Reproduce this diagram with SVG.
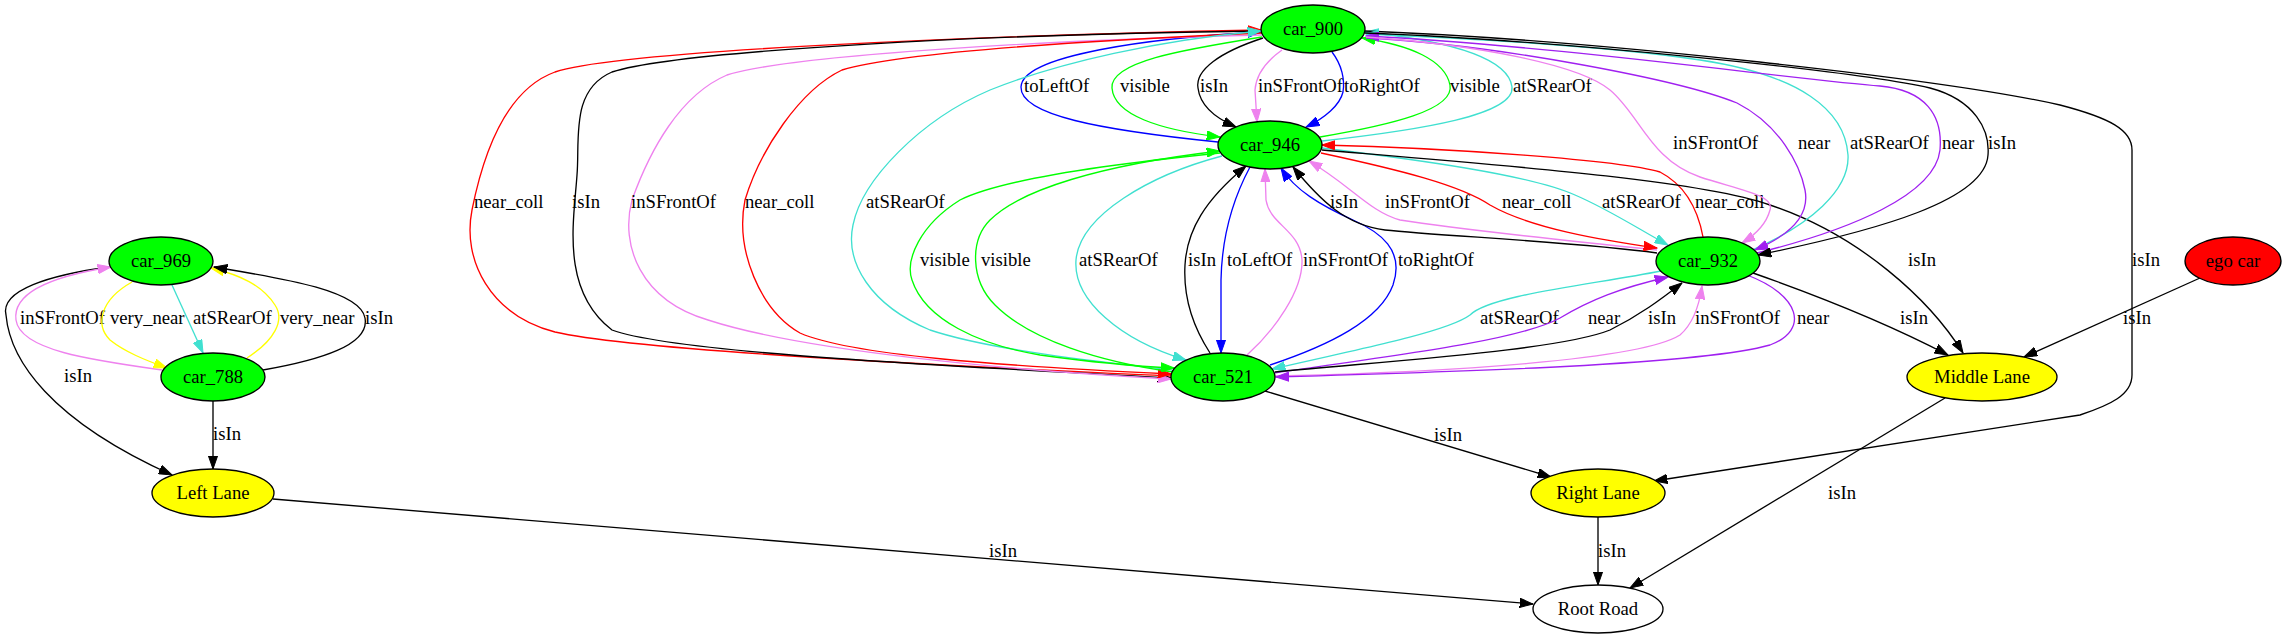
<svg xmlns="http://www.w3.org/2000/svg" width="2287" height="639" viewBox="0 0 2287 639">
<style>
text{font-family:"Liberation Serif","Times New Roman",serif;font-size:18.67px;fill:#000}
.n text{text-anchor:middle}
.n ellipse{stroke:#000;stroke-width:1.33}
.car{fill:#00ff00}.lane{fill:#ffff00}.ego{fill:#ff0000}.road{fill:#fff}
.e path{fill:none;stroke-width:1.33}
.k path{stroke:#000;marker-end:url(#ak)}
.r path{stroke:#f00;marker-end:url(#ar)}
.v path{stroke:#ee82ee;marker-end:url(#av)}
.b path{stroke:#00f;marker-end:url(#ab)}
.g path{stroke:#0f0;marker-end:url(#ag)}
.t path{stroke:#40e0d0;marker-end:url(#at)}
.y path{stroke:#ff0;marker-end:url(#ay)}
.p path{stroke:#a020f0;marker-end:url(#ap)}
</style>
<defs>
<marker id="ak" viewBox="0 0 14 10" refX="13.3" refY="5" markerWidth="14" markerHeight="10" markerUnits="userSpaceOnUse" orient="auto"><path d="M0,0.33L13.3,5L0,9.67z" fill="#000" stroke="#000" stroke-width="1"/></marker>
<marker id="ar" viewBox="0 0 14 10" refX="13.3" refY="5" markerWidth="14" markerHeight="10" markerUnits="userSpaceOnUse" orient="auto"><path d="M0,0.33L13.3,5L0,9.67z" fill="#f00" stroke="#f00" stroke-width="1"/></marker>
<marker id="av" viewBox="0 0 14 10" refX="13.3" refY="5" markerWidth="14" markerHeight="10" markerUnits="userSpaceOnUse" orient="auto"><path d="M0,0.33L13.3,5L0,9.67z" fill="#ee82ee" stroke="#ee82ee" stroke-width="1"/></marker>
<marker id="ab" viewBox="0 0 14 10" refX="13.3" refY="5" markerWidth="14" markerHeight="10" markerUnits="userSpaceOnUse" orient="auto"><path d="M0,0.33L13.3,5L0,9.67z" fill="#00f" stroke="#00f" stroke-width="1"/></marker>
<marker id="ag" viewBox="0 0 14 10" refX="13.3" refY="5" markerWidth="14" markerHeight="10" markerUnits="userSpaceOnUse" orient="auto"><path d="M0,0.33L13.3,5L0,9.67z" fill="#0f0" stroke="#0f0" stroke-width="1"/></marker>
<marker id="at" viewBox="0 0 14 10" refX="13.3" refY="5" markerWidth="14" markerHeight="10" markerUnits="userSpaceOnUse" orient="auto"><path d="M0,0.33L13.3,5L0,9.67z" fill="#40e0d0" stroke="#40e0d0" stroke-width="1"/></marker>
<marker id="ay" viewBox="0 0 14 10" refX="13.3" refY="5" markerWidth="14" markerHeight="10" markerUnits="userSpaceOnUse" orient="auto"><path d="M0,0.33L13.3,5L0,9.67z" fill="#ff0" stroke="#ff0" stroke-width="1"/></marker>
<marker id="ap" viewBox="0 0 14 10" refX="13.3" refY="5" markerWidth="14" markerHeight="10" markerUnits="userSpaceOnUse" orient="auto"><path d="M0,0.33L13.3,5L0,9.67z" fill="#a020f0" stroke="#a020f0" stroke-width="1"/></marker>
</defs>
<rect width="2287" height="639" fill="#fff"/>
<g id="connectors">
<g class="e k"><path d="M109,267 C50,275 0,290 6,315 C10,360 50,420 172,475"/><text x="64" y="382">isIn</text></g>
<g class="e v"><path d="M162,370 C90,360 20,350 16,320 C12,290 60,275 111,267"/><text x="20" y="324">inSFrontOf</text></g>
<g class="e y"><path d="M132,282 C100,300 95,325 110,340 C125,352 145,360 167,368"/><text x="110" y="324">very_near</text></g>
<g class="e t"><path d="M172,285 L203,353"/><text x="193" y="324">atSRearOf</text></g>
<g class="e y"><path d="M247,358 C275,340 285,320 275,305 C262,285 240,275 211,268"/><text x="280" y="324">very_near</text></g>
<g class="e k"><path d="M263,370 C320,360 370,345 365,318 C360,290 280,278 214,267"/><text x="365" y="324">isIn</text></g>
<g class="e k"><path d="M213,401 L213,469"/><text x="213" y="440">isIn</text></g>
<g class="e k"><path d="M273,499 L1533,604"/><text x="989" y="557">isIn</text></g>
<g class="e k"><path d="M1263,38 C1220,52 1195,70 1198,88 C1200,105 1215,118 1236,127"/><text x="1200" y="92">isIn</text></g>
<g class="e v"><path d="M1282,50 C1265,62 1256,75 1255,90 L1257,122"/><text x="1258" y="92">inSFrontOf</text></g>
<g class="e b"><path d="M1332,52 C1342,65 1345,80 1343,92 C1340,105 1325,118 1306,127"/><text x="1344" y="92">toRightOf</text></g>
<g class="e g"><path d="M1262,37 C1180,50 1110,62 1112,88 C1114,115 1160,130 1220,137"/><text x="1120" y="92">visible</text></g>
<g class="e g"><path d="M1320,137 C1390,125 1455,110 1450,85 C1445,60 1410,45 1362,38"/><text x="1450" y="92">visible</text></g>
<g class="e t"><path d="M1322,141 C1420,130 1515,115 1512,87 C1508,55 1440,40 1365,32"/><text x="1513" y="92">atSRearOf</text></g>
<g class="e b"><path d="M1218,142 C1100,130 1020,115 1021,87 C1022,55 1150,38 1261,32"/><text x="1024" y="92">toLeftOf</text></g>
<g class="e r"><path d="M1171,376 C1000,368 640,352 555,332 C490,315 462,260 472,210 C480,170 500,92 555,72 C620,50 1000,35 1261,30"/><text x="474" y="208">near_coll</text></g>
<g class="e k"><path d="M1261,31 C1000,34 680,50 612,72 C570,90 580,140 577,175 C574,220 560,290 612,330 C680,355 1000,368 1171,378"/><text x="572" y="208">isIn</text></g>
<g class="e v"><path d="M1262,35 C1050,40 790,55 727,75 C680,95 650,150 632,200 C620,245 640,300 708,320 C800,350 1000,370 1171,379"/><text x="631" y="208">inSFrontOf</text></g>
<g class="e r"><path d="M1262,33 C1100,40 900,52 842,70 C800,90 760,150 745,200 C735,250 760,310 800,333 C850,355 1000,366 1171,374"/><text x="745" y="208">near_coll</text></g>
<g class="e t"><path d="M1172,370 C1100,362 990,350 930,330 C870,305 845,262 853,225 C862,180 920,120 990,90 C1060,62 1160,40 1261,31"/><text x="866" y="208">atSRearOf</text></g>
<g class="e g"><path d="M1220,153 C1100,165 1000,180 960,200 C920,225 905,260 912,280 C925,320 980,345 1040,355 C1090,362 1130,366 1174,368"/><text x="920" y="266">visible</text></g>
<g class="e g"><path d="M1173,372 C1100,362 1030,340 995,305 C970,280 970,240 990,220 C1020,190 1100,165 1220,151"/><text x="981" y="266">visible</text></g>
<g class="e t"><path d="M1222,156 C1150,175 1080,215 1076,260 C1073,300 1120,340 1186,360"/><text x="1079" y="266">atSRearOf</text></g>
<g class="e k"><path d="M1210,353 C1195,330 1183,300 1185,265 C1187,230 1205,200 1246,166"/><text x="1188" y="266">isIn</text></g>
<g class="e b"><path d="M1250,167 C1235,195 1222,230 1221,280 L1221,353"/><text x="1227" y="266">toLeftOf</text></g>
<g class="e v"><path d="M1247,355 C1275,330 1303,290 1302,260 C1300,230 1270,225 1266,200 L1265,169"/><text x="1303" y="266">inSFrontOf</text></g>
<g class="e b"><path d="M1270,365 C1330,345 1380,320 1393,285 C1405,250 1380,232 1353,220 C1320,205 1295,190 1281,168"/><text x="1398" y="266">toRightOf</text></g>
<g class="e k"><path d="M1657,253 C1580,242 1440,236 1385,230 C1345,225 1320,200 1293,167"/><text x="1330" y="208">isIn</text></g>
<g class="e v"><path d="M1657,250 C1560,240 1450,228 1400,220 C1370,212 1350,185 1309,161"/><text x="1385" y="208">inSFrontOf</text></g>
<g class="e r"><path d="M1321,153 C1400,170 1460,185 1490,205 C1530,228 1600,240 1657,248"/><text x="1502" y="208">near_coll</text></g>
<g class="e t"><path d="M1322,148 C1420,160 1530,175 1575,195 C1610,210 1640,230 1668,245"/><text x="1602" y="208">atSRearOf</text></g>
<g class="e r"><path d="M1703,237 C1698,210 1685,185 1660,172 C1620,160 1450,148 1322,145"/><text x="1695" y="208">near_coll</text></g>
<g class="e k"><path d="M1322,150 C1500,165 1700,180 1770,205 C1860,235 1930,300 1963,353"/><text x="1908" y="266">isIn</text></g>
<g class="e k"><path d="M1365,31 C1600,40 1950,80 2060,105 C2110,118 2132,130 2132,150 L2132,375 C2132,395 2110,405 2080,415 L1654,481"/><text x="2132" y="266">isIn</text></g>
<g class="e t"><path d="M1752,250 C1810,225 1850,190 1848,155 C1845,110 1800,75 1700,60 C1600,45 1460,38 1366,34"/><text x="1850" y="149">atSRearOf</text></g>
<g class="e p"><path d="M1366,38 C1500,45 1680,80 1737,103 C1780,125 1800,165 1805,190 C1810,215 1790,235 1755,250"/><text x="1798" y="149">near</text></g>
<g class="e p"><path d="M1757,253 C1850,230 1935,195 1940,150 C1943,115 1925,90 1880,86 C1800,80 1550,45 1366,36"/><text x="1942" y="149">near</text></g>
<g class="e k"><path d="M1365,33 C1550,40 1850,70 1930,88 C1975,100 1990,130 1988,155 C1985,200 1880,230 1758,255"/><text x="1988" y="149">isIn</text></g>
<g class="e v"><path d="M1366,37 C1480,45 1580,65 1610,90 C1640,115 1650,160 1700,177 C1740,190 1775,195 1770,210 C1766,225 1755,235 1742,243"/><text x="1673" y="149">inSFrontOf</text></g>
<g class="e t"><path d="M1661,271 C1590,285 1490,295 1470,315 C1450,330 1380,345 1272,369"/><text x="1480" y="324">atSRearOf</text></g>
<g class="e p"><path d="M1274,373 C1400,355 1520,340 1560,318 C1590,300 1620,288 1668,277"/><text x="1588" y="324">near</text></g>
<g class="e k"><path d="M1275,372 C1400,360 1560,350 1610,330 C1640,315 1660,300 1682,283"/><text x="1648" y="324">isIn</text></g>
<g class="e v"><path d="M1275,376 C1450,372 1640,360 1680,335 C1695,322 1700,300 1702,286"/><text x="1695" y="324">inSFrontOf</text></g>
<g class="e p"><path d="M1747,275 C1800,295 1810,330 1770,345 C1700,365 1450,372 1276,377"/><text x="1797" y="324">near</text></g>
<g class="e k"><path d="M1753,273 C1830,300 1900,330 1948,355"/><text x="1900" y="324">isIn</text></g>
<g class="e k"><path d="M2200,278 L2024,357"/><text x="2123" y="324">isIn</text></g>
<g class="e k"><path d="M1265,391 L1551,477"/><text x="1434" y="441">isIn</text></g>
<g class="e k"><path d="M1598,517 L1598,585"/><text x="1598" y="557">isIn</text></g>
<g class="e k"><path d="M1945,398 L1630,588"/><text x="1828" y="499">isIn</text></g>
</g>
<g id="car_900" class="n"><ellipse class="car" cx="1313" cy="29" rx="52" ry="24"/><text x="1313" y="35">car_900</text></g>
<g id="car_946" class="n"><ellipse class="car" cx="1270" cy="145" rx="52" ry="24"/><text x="1270" y="151">car_946</text></g>
<g id="car_932" class="n"><ellipse class="car" cx="1708" cy="261" rx="52" ry="24"/><text x="1708" y="267">car_932</text></g>
<g id="car_521" class="n"><ellipse class="car" cx="1223" cy="377" rx="52" ry="24"/><text x="1223" y="383">car_521</text></g>
<g id="car_969" class="n"><ellipse class="car" cx="161" cy="261" rx="52" ry="24"/><text x="161" y="267">car_969</text></g>
<g id="car_788" class="n"><ellipse class="car" cx="213" cy="377" rx="52" ry="24"/><text x="213" y="383">car_788</text></g>
<g id="ego_car" class="n"><ellipse class="ego" cx="2233" cy="261" rx="48" ry="24"/><text x="2233" y="267">ego car</text></g>
<g id="middle_lane" class="n"><ellipse class="lane" cx="1982" cy="377" rx="75" ry="24"/><text x="1982" y="383">Middle Lane</text></g>
<g id="left_lane" class="n"><ellipse class="lane" cx="213" cy="493" rx="61" ry="24"/><text x="213" y="499">Left Lane</text></g>
<g id="right_lane" class="n"><ellipse class="lane" cx="1598" cy="493" rx="67" ry="24"/><text x="1598" y="499">Right Lane</text></g>
<g id="root_road" class="n"><ellipse class="road" cx="1598" cy="609" rx="65" ry="24"/><text x="1598" y="615">Root Road</text></g>
</svg>
